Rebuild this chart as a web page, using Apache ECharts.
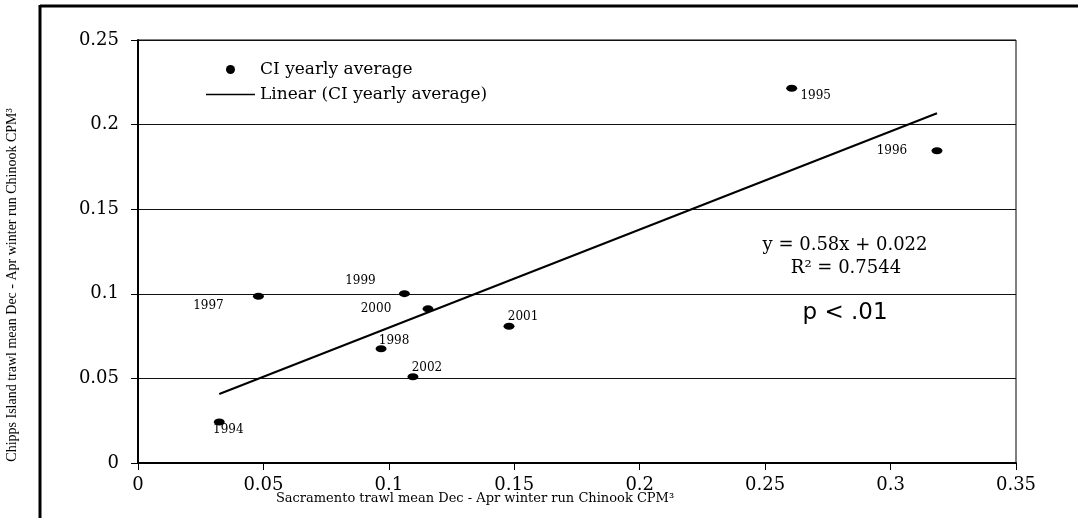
<!DOCTYPE html>
<html>
<head>
<meta charset="utf-8">
<title>CI vs Sacramento trawl</title>
<script src="https://cdn.jsdelivr.net/npm/echarts@6/dist/echarts.min.js"></script>
<style>
	html, body { margin: 0; padding: 0; background: #fff; }
	#chart { width: 1078px; height: 518px; }
</style>
</head>
<body>
<div id="chart"></div>
<script>
// data
var years = ['1994', '1995', '1996', '1997', '1998', '1999', '2000', '2001', '2002'];
var sacramentoCPM = [0.0324, 0.2606, 0.3185, 0.0480, 0.0969, 0.1062, 0.1156, 0.1479, 0.1096];
var chippsCPM = [0.0242, 0.2215, 0.1845, 0.0985, 0.0675, 0.1001, 0.0911, 0.0808, 0.0510];

// linear fit shown on the chart
var fitSlope = 0.58;
var fitIntercept = 0.022;
var fitText = ['y = 0.58x + 0.022', 'R\u00b2 = 0.7544', 'p < .01'];

var xTicks = { min: 0, max: 0.35, interval: 0.05 };
var yTicks = { min: 0, max: 0.25, interval: 0.05 };

// where each year label sits relative to its dot (px)
var labelOffset = {
	'1994': [9, 8],
	'1995': [24, 8],
	'1996': [-45, 0],
	'1997': [-50, 10],
	'1998': [13, -8],
	'1999': [-44, -13],
	'2000': [-52, 0],
	'2001': [14, -9],
	'2002': [14, -9]
};

var serif = 'DejaVu Serif';

var points = years.map(function (yr, i) {
	return {
		value: [sacramentoCPM[i], chippsCPM[i], yr],
		label: { offset: labelOffset[yr] }
	};
});

var fitX0 = Math.min.apply(null, sacramentoCPM);
var fitX1 = Math.max.apply(null, sacramentoCPM);
var fitLine = [
	[fitX0, fitSlope * fitX0 + fitIntercept],
	[fitX1, fitSlope * fitX1 + fitIntercept]
];

var chart = echarts.init(document.getElementById('chart'));

var option = {
	animation: false,
	backgroundColor: '#fff',
	grid: {
		left: 138, right: 62, top: 40, bottom: 55,
		show: true, borderColor: '#000', borderWidth: 1
	},
	legend: {
		orient: 'vertical',
		left: 201, top: 56,
		itemWidth: 49, itemHeight: 9, itemGap: 8,
		textStyle: { fontFamily: serif, fontSize: 17, color: '#000', lineHeight: 17 },
		data: [
			{ name: 'CI yearly average', icon: 'circle', itemStyle: { color: '#000', opacity: 1 } },
			{ name: 'Linear (CI yearly average)', icon: 'path://M0,0L49,0L49,1.5L0,1.5Z', itemStyle: { color: '#000' } }
		]
	},
	xAxis: {
		type: 'value',
		min: xTicks.min, max: xTicks.max, interval: xTicks.interval,
		axisLine: { lineStyle: { color: '#000', width: 2 } },
		axisTick: { length: 7, lineStyle: { color: '#000', width: 1 } },
		axisLabel: { fontFamily: serif, fontSize: 18, color: '#000', margin: 13 },
		splitLine: { show: false }
	},
	yAxis: {
		type: 'value',
		min: yTicks.min, max: yTicks.max, interval: yTicks.interval,
		axisLine: { show: true, lineStyle: { color: '#000', width: 2 } },
		axisTick: { show: true, length: 7, lineStyle: { color: '#000', width: 1 } },
		axisLabel: { fontFamily: serif, fontSize: 18, color: '#000', margin: 19 },
		splitLine: { show: true, lineStyle: { color: '#111', width: 1 } }
	},
	series: [
		{
			name: 'CI yearly average',
			type: 'scatter',
			symbol: 'path://M0,5a5,5 0 1,0 10,0a5,5 0 1,0 -10,0',
			symbolSize: [11, 7],
			itemStyle: { color: '#000', opacity: 1 },
			label: {
				show: true,
				position: 'inside',
				fontFamily: serif,
				fontSize: 12,
				color: '#000',
				opacity: 1,
				formatter: function (p) { return p.value[2]; }
			},
			data: points,
			z: 3
		},
		{
			name: 'Linear (CI yearly average)',
			type: 'line',
			symbol: 'none',
			itemStyle: { color: '#000' },
			lineStyle: { color: '#000', width: 2 },
			data: fitLine,
			z: 2
		}
	],
	graphic: [
		// outer frame (left and top only)
		{ type: 'line', shape: { x1: 40, y1: 5, x2: 40, y2: 518 }, style: { stroke: '#000', lineWidth: 3 } },
		{ type: 'line', shape: { x1: 40, y1: 6, x2: 1078, y2: 6 }, style: { stroke: '#000', lineWidth: 3 } },
		{
			type: 'text', x: 12, y: 285, rotation: Math.PI / 2,
			style: {
				text: 'Chipps Island trawl mean Dec - Apr winter run Chinook CPM\u00b3',
				font: '14px "Liberation Serif"', fill: '#000',
				align: 'center', verticalAlign: 'middle'
			}
		},
		{
			type: 'text', x: 475, y: 499,
			style: {
				text: 'Sacramento trawl mean Dec - Apr winter run Chinook CPM\u00b3',
				font: '13px "DejaVu Serif"', fill: '#000',
				align: 'center', verticalAlign: 'middle'
			}
		},
		{
			type: 'text', x: 845, y: 245,
			style: { text: fitText[0], font: '18px "DejaVu Serif"', fill: '#000', align: 'center', verticalAlign: 'middle' }
		},
		{
			type: 'text', x: 846, y: 268,
			style: { text: fitText[1], font: '18px "DejaVu Serif"', fill: '#000', align: 'center', verticalAlign: 'middle' }
		},
		{
			type: 'text', x: 845, y: 313,
			style: { text: fitText[2], font: '23px "DejaVu Sans"', fill: '#000', align: 'center', verticalAlign: 'middle' }
		}
	]
};

chart.setOption(option);
</script>
</body>
</html>
